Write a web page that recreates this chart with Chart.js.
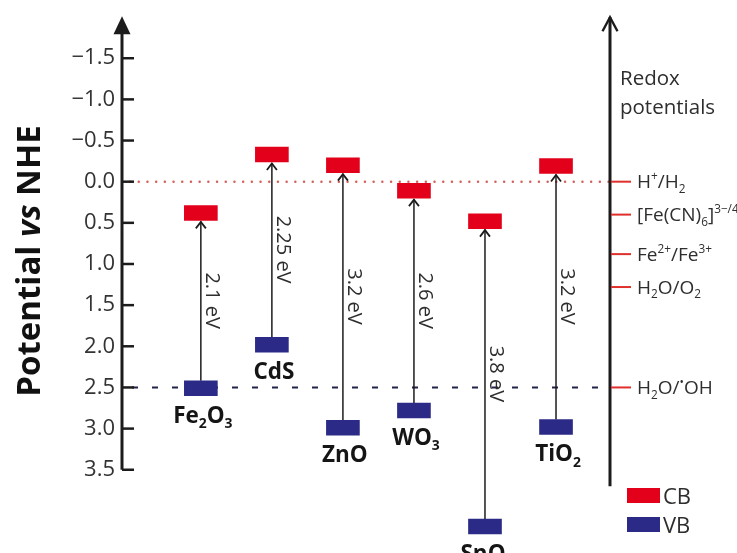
<!DOCTYPE html>
<html><head><meta charset="utf-8">
<script src="https://cdn.jsdelivr.net/npm/chart.js@4/dist/chart.umd.min.js"></script>
<style>html,body{margin:0;padding:0;background:#fff;overflow:hidden}</style>
</head><body>
<canvas id="c" width="737" height="553"></canvas>
<script>
// ---- data ----
const materials = ['Fe2O3', 'CdS', 'ZnO', 'WO3', 'SnO2', 'TiO2'];
const cbValues = [0.38, -0.33, -0.20, 0.11, 0.48, -0.19];
const vbValues = [2.51, 1.98, 2.99, 2.78, 4.19, 2.98];
const gapLabels = ['2.1 eV', '2.25 eV', '3.2 eV', '2.6 eV', '3.8 eV', '3.2 eV'];
const yTicks = [-1.5, -1.0, -0.5, 0.0, 0.5, 1.0, 1.5, 2.0, 2.5, 3.0, 3.5];
const redoxValues = [0.0, 0.40, 0.88, 1.28, 2.50];
const redoxLabels = [
  [['H', ''], ['+', 'sup'], ['/H', ''], ['2', 'sub']],
  [['[Fe(CN)', ''], ['6', 'sub'], [']', ''], ['3\u2212/4\u2212', 'sup']],
  [['Fe', ''], ['2+', 'sup'], ['/Fe', ''], ['3+', 'sup']],
  [['H', ''], ['2', 'sub'], ['O/O', ''], ['2', 'sub']],
  [['H', ''], ['2', 'sub'], ['O/', ''], ['\u2022', 'sup'], ['OH', '']]
];
const seriesNames = ['CB', 'VB'];
const redoxTitle = ['Redox', 'potentials'];
const axisTitle = [['Potential ', ''], ['vs', 'i'], [' NHE', '']];

// ---- styles ----
const RED = '#e2001a', NAVY = '#2b2a86', INK = '#1c1c1c', TXT = '#2e2e2e';
const FONT = "'Open Sans', 'DejaVu Sans', sans-serif";
const BAND_HALF = 0.09;

function segFont(type, size, weight) {
  const s = (type === 'sub' || type === 'sup') ? size * 0.62 : size;
  return (type === 'i' ? 'italic ' : '') + weight + ' ' + s.toFixed(1) + 'px ' + FONT;
}
function drawRich(ctx, segs, x, y, size, weight, align, color) {
  let w = 0;
  segs.forEach(([t, type]) => { ctx.font = segFont(type, size, weight); w += ctx.measureText(t).width; });
  let cx = align === 'center' ? x - w / 2 : x;
  ctx.fillStyle = color;
  ctx.textAlign = 'left';
  ctx.textBaseline = 'alphabetic';
  segs.forEach(([t, type]) => {
    ctx.font = segFont(type, size, weight);
    let dy = type === 'sub' ? size * 0.24 : type === 'sup' ? -size * 0.42 : 0;
    ctx.fillText(t, cx, y + dy);
    cx += ctx.measureText(t).width;
  });
}
function nameSegs(name) {
  return name.match(/\d+|\D+/g).map(p => [p, /\d/.test(p) ? 'sub' : '']);
}
function fmtTick(v) {
  return (v < 0 ? '\u2212' : '') + Math.abs(v).toFixed(1);
}

const deco = {
  id: 'deco',
  beforeDatasetsDraw(chart) {
    const ctx = chart.ctx, ys = chart.scales.y, xs = chart.scales.x, ca = chart.chartArea;
    const A = ca.left, R = ca.right;
    ctx.save();
    // dotted red line (H+/H2)
    let y0 = ys.getPixelForValue(redoxValues[0]);
    ctx.strokeStyle = '#d4605a'; ctx.lineWidth = 2.4; ctx.lineCap = 'round';
    ctx.setLineDash([0.1, 8.6]);
    ctx.beginPath(); ctx.moveTo(A + 8, y0); ctx.lineTo(R, y0); ctx.stroke();
    // dashed line (H2O/OH)
    let y4 = ys.getPixelForValue(redoxValues[4]);
    ctx.strokeStyle = '#23234a'; ctx.lineWidth = 2; ctx.lineCap = 'butt';
    ctx.setLineDash([6, 14]); ctx.lineDashOffset = -10;
    ctx.beginPath(); ctx.moveTo(A, y4); ctx.lineTo(R, y4); ctx.stroke();
    ctx.setLineDash([]);
    // band gap arrows
    materials.forEach((m, i) => {
      const x = xs.getPixelForValue(i);
      const yTop = ys.getPixelForValue(cbValues[i] + BAND_HALF);
      const yBot = ys.getPixelForValue(vbValues[i] - BAND_HALF);
      ctx.strokeStyle = INK; ctx.lineWidth = 1.5;
      ctx.beginPath(); ctx.moveTo(x, yBot); ctx.lineTo(x, yTop + 1); ctx.stroke();
      ctx.lineWidth = 1.8;
      ctx.beginPath(); ctx.moveTo(x - 5, yTop + 8); ctx.lineTo(x, yTop + 1.5); ctx.lineTo(x + 5, yTop + 8); ctx.stroke();
      ctx.save();
      ctx.translate(x + 5, (yTop + yBot) / 2);
      ctx.rotate(Math.PI / 2);
      ctx.font = '400 20px ' + FONT; ctx.fillStyle = TXT;
      ctx.textAlign = 'center'; ctx.textBaseline = 'alphabetic';
      ctx.fillText(gapLabels[i], 0, 0);
      ctx.restore();
    });
    ctx.restore();
  },
  afterDraw(chart) {
    const ctx = chart.ctx, ys = chart.scales.y, xs = chart.scales.x, ca = chart.chartArea;
    const A = ca.left, R = ca.right;
    ctx.save();
    // left axis
    const yB = ys.getPixelForValue(yTicks[yTicks.length - 1]);
    const yT = ca.top - 4;
    ctx.strokeStyle = INK; ctx.fillStyle = INK; ctx.lineWidth = 3;
    ctx.beginPath(); ctx.moveTo(A, yB); ctx.lineTo(A, yT + 14); ctx.stroke();
    ctx.beginPath(); ctx.moveTo(A, yT); ctx.lineTo(A - 8.5, yT + 18); ctx.lineTo(A + 8.5, yT + 18); ctx.closePath(); ctx.fill();
    ctx.lineWidth = 2.5;
    yTicks.forEach(v => {
      const y = ys.getPixelForValue(v);
      ctx.beginPath(); ctx.moveTo(A, y); ctx.lineTo(A + 12, y); ctx.stroke();
    });
    // right axis
    const yRB = ys.getPixelForValue(3.7);
    ctx.lineWidth = 3;
    ctx.beginPath(); ctx.moveTo(R, yRB); ctx.lineTo(R, yT + 1); ctx.stroke();
    ctx.lineWidth = 2.4;
    ctx.beginPath(); ctx.moveTo(R - 7.5, yT + 15); ctx.lineTo(R, yT + 1); ctx.lineTo(R + 7.5, yT + 15); ctx.stroke();
    // redox ticks and labels
    redoxValues.forEach((v, i) => {
      const y = ys.getPixelForValue(v);
      ctx.strokeStyle = '#e0302c'; ctx.lineWidth = 2;
      ctx.beginPath(); ctx.moveTo(R + 1, y); ctx.lineTo(R + 21, y); ctx.stroke();
      drawRich(ctx, redoxLabels[i], R + 27, y + 6.5, 19, '400', 'left', TXT);
    });
    // "Redox potentials"
    ctx.font = '400 20.5px ' + FONT; ctx.fillStyle = TXT; ctx.textAlign = 'left'; ctx.textBaseline = 'alphabetic';
    ctx.fillText(redoxTitle[0], R + 10, 85);
    ctx.fillText(redoxTitle[1], R + 10, 114);
    // material labels
    materials.forEach((m, i) => {
      const x = xs.getPixelForValue(i);
      const yb = ys.getPixelForValue(vbValues[i] + BAND_HALF);
      drawRich(ctx, nameSegs(m), x + 2, yb + 27, 22.5, '700', 'center', '#151515');
    });
    // legend
    chart.data.datasets.forEach((ds, i) => {
      const bx = R + 17, by = 488 + i * 29;
      ctx.fillStyle = ds.backgroundColor;
      ctx.fillRect(bx, by, 33, 15);
      ctx.font = '400 22px ' + FONT; ctx.fillStyle = TXT; ctx.textAlign = 'left'; ctx.textBaseline = 'alphabetic';
      ctx.fillText(seriesNames[i], bx + 36, by + 15.5);
    });
    // axis title
    ctx.save();
    ctx.translate(40, 261);
    ctx.rotate(-Math.PI / 2);
    let w = 0;
    axisTitle.forEach(([t, s]) => { ctx.font = (s === 'i' ? 'italic ' : '') + '700 33px ' + FONT; w += ctx.measureText(t).width; });
    let cx = -w / 2;
    ctx.fillStyle = '#111';
    axisTitle.forEach(([t, s]) => {
      ctx.font = (s === 'i' ? 'italic ' : '') + '700 33px ' + FONT;
      ctx.fillText(t, cx, 0);
      cx += ctx.measureText(t).width;
    });
    ctx.restore();
    ctx.restore();
  }
};

new Chart(document.getElementById('c').getContext('2d'), {
  type: 'bar',
  data: {
    datasets: [
      { label: seriesNames[0], data: cbValues.map((v, i) => ({ x: i, y: [v - BAND_HALF, v + BAND_HALF] })),
        backgroundColor: RED, grouped: false, barThickness: 33, clip: false },
      { label: seriesNames[1], data: vbValues.map((v, i) => ({ x: i, y: [v - BAND_HALF, v + BAND_HALF] })),
        backgroundColor: NAVY, grouped: false, barThickness: 33, clip: false }
    ]
  },
  options: {
    responsive: false,
    animation: false,
    layout: { padding: { left: 0, right: 127, top: 15, bottom: 0 } },
    plugins: { legend: { display: false }, tooltip: { enabled: false } },
    scales: {
      x: { type: 'linear', min: -1.11, max: 5.76, display: false, offset: false },
      y: {
        reverse: true, min: -1.962, max: 4.266, beginAtZero: false,
        afterBuildTicks: s => { s.ticks = yTicks.map(v => ({ value: v })); },
        afterFit: s => { s.width = 122; },
        grid: { display: false, drawTicks: false },
        border: { display: false },
        ticks: { padding: 7, color: '#333', font: { family: FONT, size: 22 }, callback: v => fmtTick(v) }
      }
    }
  },
  plugins: [deco]
});
</script>
</body></html>
